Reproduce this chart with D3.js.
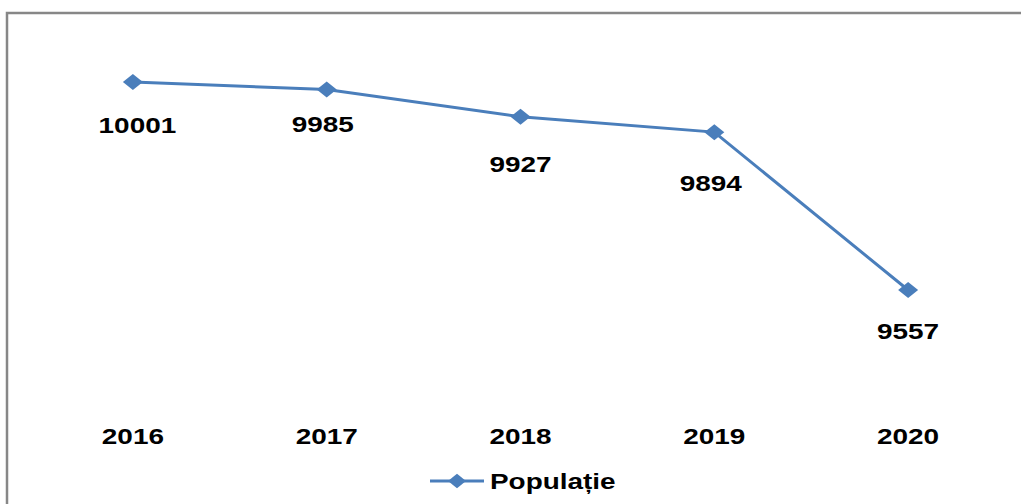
<!DOCTYPE html>
<html>
<head>
<meta charset="utf-8">
<script src="https://cdn.jsdelivr.net/npm/d3@7"></script>
<style>
  body { margin: 0; background: #fff; }
  text { font-family: "Liberation Sans", Arial, sans-serif; font-weight: bold; fill: #000; }
</style>
</head>
<body>
<div id="chart"></div>
<script>
const years = ['2016', '2017', '2018', '2019', '2020']
const population = [10001, 9985, 9927, 9894, 9557]
const seriesName = 'Populație'

const width = 1021
const height = 504
const color = '#4a7ebb'
const stretch = 1.27 // the picture is wider than tall

// hand-placed label nudges (px, relative to the point)
const labelDx = [4.5, -4, 0, -3.5, 0]
const labelDy = [51, 43, 55, 59, 49]

const x = d3.scaleBand()
    .domain(years)
    .range([36, 1005])

const y = d3.scaleLinear()
    .domain([9400, 10100])
    .range([363.6, 35.6])

const svg = d3.select('#chart').append('svg')
    .attr('width', width)
    .attr('height', height)

// frame (only top and left edges show)
svg.append('path')
    .attr('d', 'M7,504 V13 H1021')
    .attr('fill', 'none')
    .attr('stroke', '#878787')
    .attr('stroke-width', 2.5)

const cx = d => x(d) + x.bandwidth() / 2

const pts = years.map((d, i) => ({ year: d, value: population[i], i: i }))

const line = d3.line()
    .x(d => cx(d.year))
    .y(d => y(d.value))

svg.append('path')
    .datum(pts)
    .attr('d', line)
    .attr('fill', 'none')
    .attr('stroke', color)
    .attr('stroke-width', 3)

const diamond = 'M-10,0 L0,-8 L10,0 L0,8 Z'

svg.selectAll('.marker')
    .data(pts)
    .enter().append('path')
    .attr('class', 'marker')
    .attr('d', diamond)
    .attr('fill', color)
    .attr('transform', d => `translate(${cx(d.year)},${y(d.value)})`)

// value labels under the points
svg.selectAll('.val')
    .data(pts)
    .enter().append('text')
    .attr('class', 'val')
    .attr('text-anchor', 'middle')
    .attr('font-size', 22)
    .attr('transform', d => `translate(${cx(d.year) + labelDx[d.i]},${y(d.value) + labelDy[d.i]}) scale(${stretch},1)`)
    .text(d => d.value)

// category labels
svg.selectAll('.cat')
    .data(years)
    .enter().append('text')
    .attr('class', 'cat')
    .attr('text-anchor', 'middle')
    .attr('font-size', 22)
    .attr('transform', d => `translate(${cx(d)},444) scale(${stretch},1)`)
    .text(d => d)

// legend
const legend = svg.append('g').attr('transform', 'translate(430,481)')
legend.append('line')
    .attr('x1', 0).attr('x2', 54)
    .attr('stroke', color)
    .attr('stroke-width', 3)
legend.append('path')
    .attr('d', diamond)
    .attr('fill', color)
    .attr('transform', 'translate(27,0) scale(0.9)')
legend.append('text')
    .attr('font-size', 22)
    .attr('transform', `translate(60,8) scale(${stretch},1)`)
    .text(seriesName)
</script>
</body>
</html>
